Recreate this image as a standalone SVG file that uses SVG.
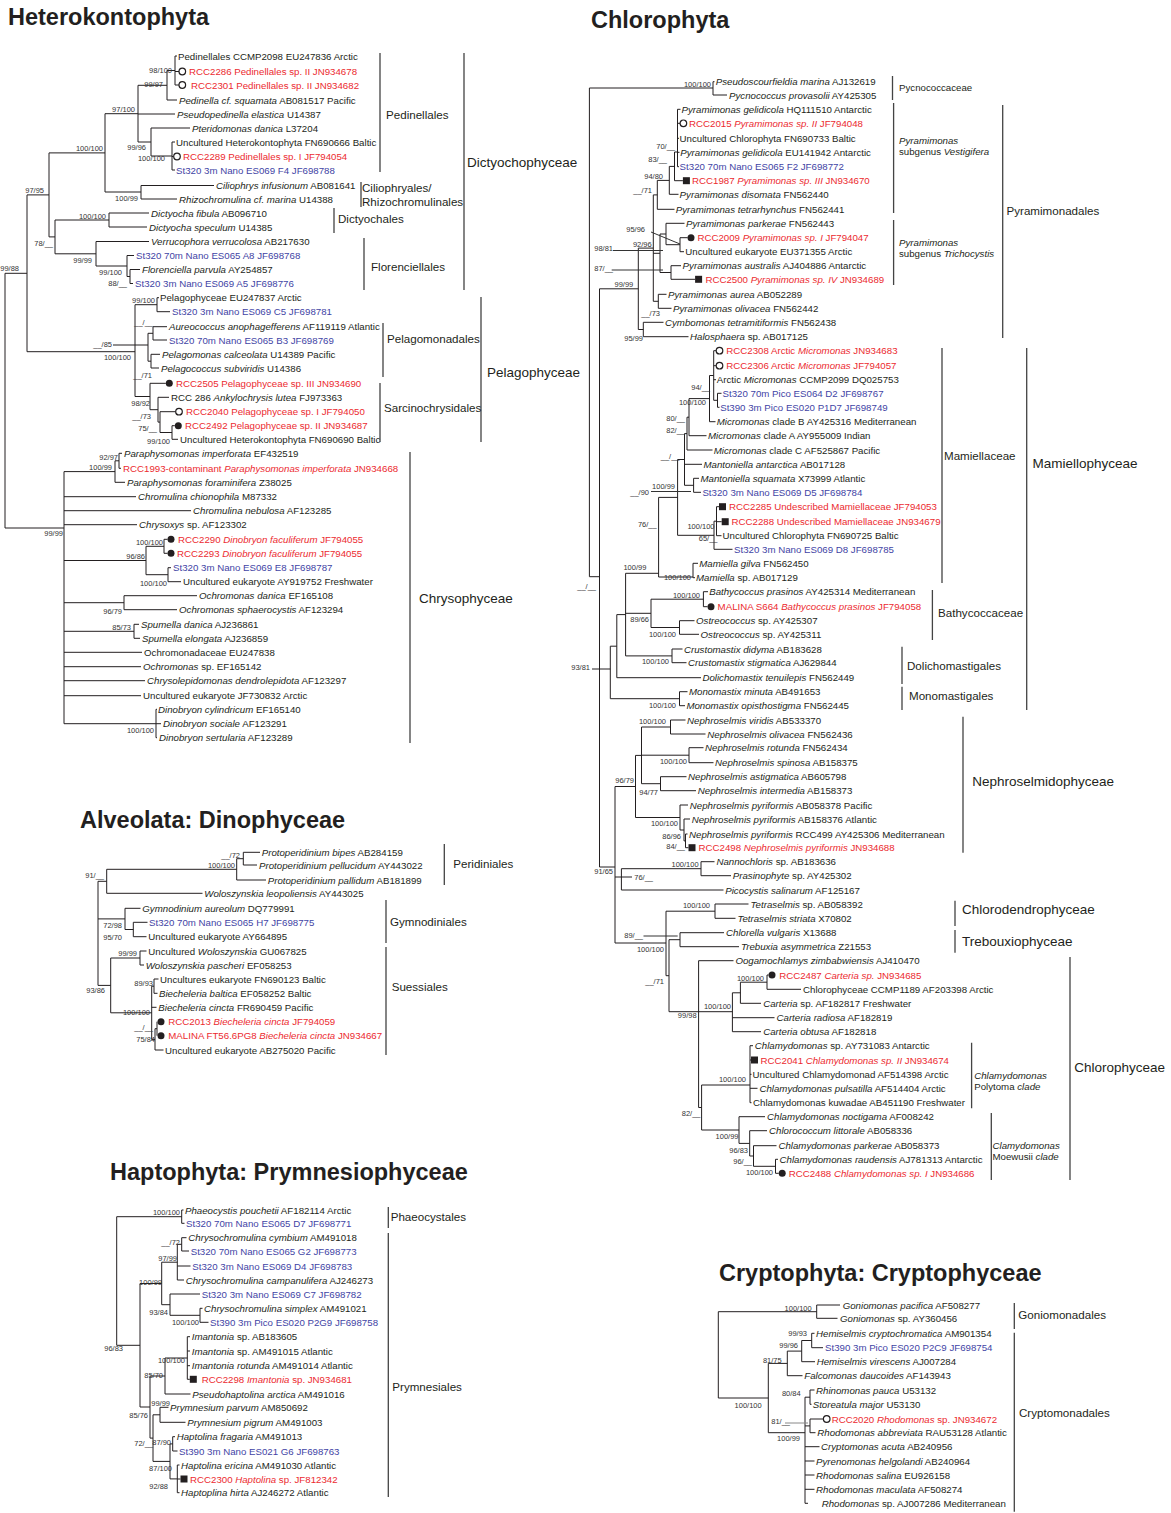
<svg xmlns="http://www.w3.org/2000/svg" width="1171" height="1513" viewBox="0 0 1171 1513">
<style>
text{font-family:"Liberation Sans",Arial,sans-serif;fill:#231f20}
.l{font-size:9.7px}
.r{fill:#ec2a2f}
.b{fill:#3f44a5}
.s{font-size:7.5px;fill:#333;text-anchor:end}
.o{font-size:11.6px}
.k{font-size:13.5px}
.h{font-size:23.5px;font-weight:bold}
.i{font-style:italic}
.br{fill:none;stroke:#231f20;stroke-width:1}
.bar{fill:none;stroke:#444;stroke-width:1.3}
.ptr{fill:none;stroke:#333;stroke-width:1}
.ptg{fill:none;stroke:#888;stroke-width:1}
</style>
<defs>
<circle id="oc" r="3.3" fill="#fff" stroke="#231f20" stroke-width="1.2"/>
<circle id="fc" r="3.5" fill="#231f20"/>
<rect id="sq" x="-3.5" y="-3.5" width="7" height="7" fill="#231f20"/>
</defs>
<rect width="1171" height="1513" fill="#fff"/>

<g id="connectors">
<path class="br" d="M175,56V85M175,56H177M175,71.5H179M175,85H179M167,70.5H175M167,70.5V100M167,100H177M138,85.3H167M138,85.3V142M138,114H175M138,142H151M151,128V156M151,128H190M151,156H172M172,142V170M172,142H175M172,156.5H173.5M172,170H175M105,113.7H138M105,113.7V192M105,192H141M141,185.5V199M141,185.5H214M141,199H177M49,152.9H105M49,152.9V236.9M49,236.9H55M55,220V253.8M55,220H109M109,213V227M109,213H149M109,227H147M55,253.8H96M96,241.5V266M96,241.5H149M96,266H127M127,255.5V276.5M127,255.5H134M127,276.5H130M130,269.5V283.5M130,269.5H140M130,283.5H133M27,194.9H49M27,194.9V351.7M5,273.3H27M5,273.3V528M27,351.7H135M135,304.7V396.5M135,304.7H157M157,297.7V311.7M157,297.7H159M157,311.7H170M153,326.7V340M153,326.7H167M153,340H167M151,354.3V368M151,354.3H160M151,368H159M148,333.3V361.2M148,333.3H153M148,361.2H151M113,345H148M135,396.5H150M150,383.3V409.7M150,383.3H165.8M150,409.7H158M158,397.3V422.1M158,397.3H169M158,422.1H160M160,411.7V432.5M160,411.7H175.7M160,432.5H172M172,425.7V439.3M172,425.7H174.8M172,439.3H178"/>
<path class="br" d="M5,528H64M64,471.6V723.7M64,471.6H115M115,460.8V482.3M115,460.8H119M115,482.3H125M119,453.3V468.3M119,453.3H122M119,468.3H121M64,496.7H136M64,510.7H191M64,524.7H137M64,560.5H146M146,546.3V574.7M146,546.3H164M146,574.7H168M164,539.3V553.3M164,539.3H167.5M164,553.3H167.5M168,567.7V581.7M168,567.7H171M168,581.7H181M64,602.7H124M124,595.7V609.7M124,595.7H197M124,609.7H177M64,631.3H134M134,624.3V638.3M134,624.3H139M134,638.3H140M64,652.3H142M64,666.7H141M64,680.7H145M64,695.7H141M64,723.7H156M156,709.3V737.7M156,709.3H157M156,723.7H161M156,737.7H157"/>
<path class="br" d="M243.3,852.3V865M243.3,852.3H260M243.3,865H257M236.7,858.7V880M236.7,858.7H243.3M236.7,880H266M106.7,869.3V893.3M106.7,869.3H236.7M106.7,893.3H202.5M133.3,922.3V936.7M133.3,922.3H147.5M133.3,936.7H146.5M125,908.3V929.5M125,908.3H140.5M125,929.5H133.3M140,951V965M140,951H146.5M140,965H144M154,979V993.3M154,979H158.5M154,993.3H157.5M157,1021.7V1035.7M155,1028.7V1050M155,1028.7H157M155,1050H163.5M151.7,986.2V1039.4M151.7,986.2H154M151.7,1007.3H156.5M151.7,1039.4H155M110.7,958V1012.8M110.7,958H140M110.7,1012.8H151.7M98,881.3V985.4M98,881.3H106.7M98,918.9H125M98,985.4H110.7"/>
<path class="br" d="M181.7,1210V1223.3M181.7,1210H183.5M181.7,1223.3H184.5M181.7,1237.7V1251M181.7,1237.7H186.5M181.7,1251H189M177.3,1244.3V1280M177.3,1244.3H181.7M177.3,1266H190.5M177.3,1280H184M200,1308.3V1322.3M200,1308.3H202.5M200,1322.3H208.5M170,1294V1315.3M170,1294H200M170,1315.3H200M161.7,1262.2V1304.7M161.7,1262.2H177.3M161.7,1304.7H170M187.3,1336.7V1379.3M187.3,1336.7H190M187.3,1351H190M187.3,1365.7H190M187.3,1379.3H189.8M165,1358V1394M165,1358H187.3M165,1394H190.5M160,1407.3V1422.3M160,1407.3H168.5M160,1422.3H185.5M172.7,1436.7V1451M172.7,1436.7H175M172.7,1451H177.5M177.3,1465V1492.7M177.3,1465H179.5M177.3,1479H180.5M177.3,1492.7H179.5M170,1443.9V1478.9M170,1443.9H172.7M170,1478.9H177.3M153,1414.8V1461.4M153,1414.8H160M153,1461.4H170M150,1376V1438.1M150,1376H165M150,1438.1H153M140,1283.5V1407M140,1283.5H161.7M140,1407H150M116.7,1216.7V1345.3M116.7,1216.7H181.7M116.7,1345.3H140"/>
<path class="br" d="M589.4,88V576.7M589.4,88H713M713,81.7V95M713,81.7H714.5M713,95H727M589.4,576.7H599.5M599.5,288.8V867M677.5,109.3V166.7M677.5,109.3H680.5M677.5,123.3H680.2M677.5,138.3H679M677.5,152.3H679.5M677.5,166.7H679M674.5,152V180.7M674.5,152H677.5M674.5,180.7H682.9M669.3,166.4V194.3M669.3,166.4H674.5M669.3,194.3H678.5M657.3,180.4V209.3M657.3,180.4H669.3M657.3,209.3H674.5M680,237.7V251.7M680,237.7H687.7M680,251.7H684M666,223.3V244.7M666,223.3H684.5M666,244.7H680M671,265.7V279.3M671,265.7H681M671,279.3H695M660,234V272.5M660,234H666M660,272.5H671M658.3,294.3V308.3M658.3,294.3H666.5M658.3,308.3H671.5M653.3,194.9V301.3M653.3,194.9H657.3M653.3,253.3H660M653.3,301.3H658.3M643.3,322.3V336.7M643.3,322.3H663.5M643.3,336.7H688.5M638.3,248.1V329.5M638.3,248.1H653.3M638.3,329.5H643.3M599.5,288.8H638.3"/>
<path class="br" d="M713.7,350.7V400.3M713.7,350.7H716.2M713.7,365.7H716.2M713.7,379.7H716M717.5,393.3V407.3M717.5,393.3H721.5M717.5,407.3H719.5M713.7,400.3H717.5M709.5,375.5V421.7M709.5,375.5H713.7M709.5,421.7H715.5M689,398.6V435.7M689,398.6H709.5M689,435.7H706.5M687,417.2V450M687,417.2H689M687,450H712.5M693.6,478.3V492.3M693.6,478.3H699M693.6,492.3H701M684.5,433.6V485.3M684.5,433.6H687M684.5,464.3H702M684.5,485.3H693.6M716.5,506.7V535.7M716.5,506.7H719M716.5,521.7H721.7M716.5,535.7H721.5M714,521.2V549.3M714,521.2H716.5M714,549.3H732.5M677.6,459.5V535.3M677.6,459.5H684.5M677.6,535.3H714M658.6,497.4V577M658.6,497.4H677.6M658.6,577H693M693,563.3V577.7M693,563.3H698M693,577.7H695M625.6,573.3H658.6M703.4,591.7V606.7M703.4,591.7H708M703.4,606.7H707.5M679.5,620.7V634.3M679.5,620.7H694.5M679.5,634.3H699M651,599.2V627.5M651,599.2H703.4M651,627.5H679.5M672,649V662.7M672,649H682.5M672,662.7H686.5M625.6,573.3V655.9M625.6,613.3H651M625.6,655.9H672M616.8,614.6V677.7M616.8,614.6H625.6M616.8,677.7H701M679.5,691.7V705.7M679.5,691.7H687.5M679.5,705.7H685M610.3,646.2V698.7M610.3,646.2H616.8M610.3,698.7H679.5M592,669H610.3"/>
<path class="br" d="M670.5,720V734M670.5,720H685.5M670.5,734H705.5M689,747.7V762.7M689,747.7H703.5M689,762.7H713.5M660.5,776.7V790.7M660.5,776.7H686.5M660.5,790.7H696M641.5,727V783.7M641.5,727H670.5M641.5,755.2H689M641.5,783.7H660.5M685.5,834V847.7M685.5,834H687.5M685.5,847.7H688.5M684,819V840.9M684,819H690M684,840.9H685.5M680,805V830M680,805H688M680,830H684M635.5,755.4V817.5M635.5,755.4H641.5M635.5,817.5H680M615,786.5V943M615,786.5H635.5M701,861.7V875.7M701,861.7H714.5M701,875.7H731M621.4,868.7V890M621.4,868.7H701M621.4,890H723.5M615,877H632M599.5,867H615M715,904V918.3M715,904H748.5M715,918.3H735.5M680,932.7V946.7M680,932.7H724M680,946.7H739M666,911.2V975.7M666,911.2H715M666,975.7H669M669,939.7V1011.7M669,939.7H680M669,1011.7H732.4M615,943H666M698.6,960.7V1107.5M698.6,960.7H733.5M767,975V989.3M767,975H768.5M767,989.3H801M740.4,982.2V1003.3M740.4,982.2H767M740.4,1003.3H761M732.4,992.8V1031.7M732.4,992.8H740.4M732.4,1017.7H774.5M732.4,1031.7H761M750,1045.7V1102.7M750,1045.7H753M750,1060H751M750,1074.3H751.5M750,1088.3H757.5M750,1102.7H751.5M775.5,1159.3V1173.3M775.5,1159.3H778M775.5,1173.3H778.7M753.5,1145.7V1166.3M753.5,1145.7H776.5M753.5,1166.3H775.5M749.7,1130.7V1156M749.7,1130.7H767M749.7,1156H753.5M739,1116.7V1143.4M739,1116.7H765M739,1143.4H749.7M701.6,1085V1130M701.6,1085H750M701.6,1130H739M698.6,1107.5H701.6"/>
<path class="br" d="M816.7,1305V1318.3M816.7,1305H840M816.7,1318.3H837.5M811.7,1333.3V1347.7M811.7,1333.3H814.5M811.7,1347.7H823M801.7,1340.5V1361.7M801.7,1340.5H811.7M801.7,1361.7H815M787.3,1351.1V1375.7M787.3,1351.1H801.7M787.3,1375.7H802.5M810,1390V1404.3M810,1390H814.5M810,1404.3H811.5M810,1419V1432.7M810,1419H823.4M810,1432.7H815.5M805,1397.2V1503.3M805,1397.2H810M805,1425.9H810M805,1446.7H819.5M805,1461H814.5M805,1475H814.5M805,1489.3H814.5M805,1503.3H808M768.3,1432.7H805M768.3,1363.4V1432.7M768.3,1363.4H787.3M718.3,1311.7V1398M718.3,1311.7H816.7M718.3,1398H768.3"/>
<path class="ptr" d="M613,250.5H663M611.7,270H663M651,232L680,244M651,491.5H691M643.5,936H677.7"/>
<path class="ptg" d="M785,1423H808"/>
</g>

<g id="heterokontophyta">
<text class="h" x="8" y="25">Heterokontophyta</text>
<g id="hk-leaves">
<text class="l" x="178" y="59.5">Pedinellales CCMP2098 EU247836 Arctic</text>
<use href="#oc" x="182.3" y="71.5"/><text class="l r" x="189" y="75">RCC2286 Pedinellales sp. II JN934678</text>
<use href="#oc" x="182.3" y="85"/><text class="l r" x="191" y="88.5">RCC2301 Pedinellales sp. II JN934682</text>
<text class="l" x="179" y="103.5"><tspan class="i">Pedinella cf. squamata</tspan> AB081517 Pacific</text>
<text class="l" x="177" y="117.5"><tspan class="i">Pseudopedinella elastica</tspan> U14387</text>
<text class="l" x="192" y="131.5"><tspan class="i">Pteridomonas danica</tspan> L37204</text>
<text class="l" x="176" y="145.5">Uncultured Heterokontophyta FN690666 Baltic</text>
<use href="#oc" x="177" y="156.5"/><text class="l r" x="183" y="160">RCC2289 Pedinellales sp. I JF794054</text>
<text class="l b" x="176" y="173.5">St320 3m Nano ES069 F4 JF698788</text>
<text class="l" x="216" y="189"><tspan class="i">Ciliophrys infusionum</tspan> AB081641</text>
<text class="l" x="179" y="202.5"><tspan class="i">Rhizochromulina cf. marina</tspan> U14388</text>
<text class="l" x="151" y="216.5"><tspan class="i">Dictyocha fibula</tspan> AB096710</text>
<text class="l" x="149" y="230.5"><tspan class="i">Dictyocha speculum</tspan> U14385</text>
<text class="l" x="151" y="245"><tspan class="i">Verrucophora verrucolosa</tspan> AB217630</text>
<text class="l b" x="136" y="259">St320 70m Nano ES065 A8 JF698768</text>
<text class="l" x="142" y="273"><tspan class="i">Florenciella parvula</tspan> AY254857</text>
<text class="l b" x="135" y="287">St320 3m Nano ES069 A5 JF698776</text>
<text class="l" x="160" y="301.2">Pelagophyceae EU247837 Arctic</text>
<text class="l b" x="172" y="315.2">St320 3m Nano ES069 C5 JF698781</text>
<text class="l" x="169" y="330"><tspan class="i">Aureococcus anophagefferens</tspan> AF119119 Atlantic</text>
<text class="l b" x="169" y="343.5">St320 70m Nano ES065 B3 JF698769</text>
<text class="l" x="162" y="357.8"><tspan class="i">Pelagomonas calceolata</tspan> U14389 Pacific</text>
<text class="l" x="161" y="371.5"><tspan class="i">Pelagococcus subviridis</tspan> U14386</text>
<use href="#fc" x="169.3" y="383.3"/><text class="l r" x="176" y="386.8">RCC2505 Pelagophyceae sp. III JN934690</text>
<text class="l" x="171" y="400.8">RCC 286 <tspan class="i">Ankylochrysis lutea</tspan> FJ973363</text>
<use href="#oc" x="179" y="411.7"/><text class="l r" x="186" y="415.2">RCC2040 Pelagophyceae sp. I JF794050</text>
<use href="#fc" x="178.3" y="425.7"/><text class="l r" x="185" y="429.2">RCC2492 Pelagophyceae sp. II JN934687</text>
<text class="l" x="180" y="442.8">Uncultured Heterokontophyta FN690690 Baltic</text>
<text class="l" x="124" y="456.8"><tspan class="i">Paraphysomonas imperforata</tspan> EF432519</text>
<text class="l r" x="123" y="471.8">RCC1993-contaminant <tspan class="i">Paraphysomonas imperforata</tspan> JN934668</text>
<text class="l" x="127" y="485.8"><tspan class="i">Paraphysomonas foraminifera</tspan> Z38025</text>
<text class="l" x="138" y="500.2"><tspan class="i">Chromulina chionophila</tspan> M87332</text>
<text class="l" x="193" y="514.2"><tspan class="i">Chromulina nebulosa</tspan> AF123285</text>
<text class="l" x="139" y="528.2"><tspan class="i">Chrysoxys</tspan> sp. AF123302</text>
<use href="#fc" x="171" y="539.3"/><text class="l r" x="178" y="542.8">RCC2290 <tspan class="i">Dinobryon faculiferum</tspan> JF794055</text>
<use href="#fc" x="171" y="553.3"/><text class="l r" x="177" y="556.8">RCC2293 <tspan class="i">Dinobryon faculiferum</tspan> JF794055</text>
<text class="l b" x="173" y="571.2">St320 3m Nano ES069 E8 JF698787</text>
<text class="l" x="183" y="585.2">Uncultured eukaryote AY919752 Freshwater</text>
<text class="l" x="199" y="599.2"><tspan class="i">Ochromonas danica</tspan> EF165108</text>
<text class="l" x="179" y="613.2"><tspan class="i">Ochromonas sphaerocystis</tspan> AF123294</text>
<text class="l" x="141" y="627.8"><tspan class="i">Spumella danica</tspan> AJ236861</text>
<text class="l" x="142" y="641.8"><tspan class="i">Spumella elongata</tspan> AJ236859</text>
<text class="l" x="144" y="655.8">Ochromonadaceae EU247838</text>
<text class="l" x="143" y="670.2"><tspan class="i">Ochromonas</tspan> sp. EF165142</text>
<text class="l" x="147" y="684.2"><tspan class="i">Chrysolepidomonas dendrolepidota</tspan> AF123297</text>
<text class="l" x="143" y="699.2">Uncultured eukaryote JF730832 Arctic</text>
<text class="l" x="158" y="712.8"><tspan class="i">Dinobryon cylindricum</tspan> EF165140</text>
<text class="l" x="163" y="727.2"><tspan class="i">Dinobryon sociale</tspan> AF123291</text>
<text class="l" x="159" y="741.2"><tspan class="i">Dinobryon sertularia</tspan> AF123289</text>
</g>
<g id="hk-support">
<text class="s" x="172" y="72.7">98/100</text>
<text class="s" x="163" y="86.7">99/97</text>
<text class="s" x="135" y="111.7">97/100</text>
<text class="s" x="103" y="150.7">100/100</text>
<text class="s" x="146" y="149.7">99/96</text>
<text class="s" x="165" y="160.7">100/100</text>
<text class="s" x="44" y="192.7">97/95</text>
<text class="s" x="138" y="200.7">100/99</text>
<text class="s" x="106" y="218.7">100/100</text>
<text class="s" x="53" y="245.7">78/__</text>
<text class="s" x="92" y="262.7">99/99</text>
<text class="s" x="122" y="274.7">99/100</text>
<text class="s" x="127" y="285.7">88/__</text>
<text class="s" x="19" y="270.7">99/88</text>
<text class="s" x="155" y="302.7">99/100</text>
<text class="s" x="153" y="324.7">__/__</text>
<text class="s" x="112" y="346.7">__/85</text>
<text class="s" x="131" y="359.7">100/100</text>
<text class="s" x="152" y="377.7">__/71</text>
<text class="s" x="150" y="405.7">98/92</text>
<text class="s" x="151" y="418.7">__/73</text>
<text class="s" x="157" y="430.7">75/__</text>
<text class="s" x="170" y="443.7">99/100</text>
<text class="s" x="118" y="459.7">92/97</text>
<text class="s" x="112" y="469.7">100/99</text>
<text class="s" x="63" y="535.7">99/99</text>
<text class="s" x="163" y="544.7">100/100</text>
<text class="s" x="145" y="558.7">96/86</text>
<text class="s" x="167" y="585.7">100/100</text>
<text class="s" x="122" y="613.7">96/79</text>
<text class="s" x="131" y="629.7">85/73</text>
<text class="s" x="154" y="732.7">100/100</text>
</g>
<g id="hk-clades">
<path class="bar" d="M380,53V172M361,182V207M334,208V233M364,238V290M464,53V290M383,323V377M380,383V442M481,297V442M410,452V743"/>
<text class="o" x="386" y="119.2">Pedinellales</text>
<text class="o" x="362" y="192.2">Ciliophryales/</text>
<text class="o" x="362" y="206.2">Rhizochromulinales</text>
<text class="o" x="338" y="223.2">Dictyochales</text>
<text class="o" x="371" y="271.2">Florenciellales</text>
<text class="k" x="467" y="166.9">Dictyochophyceae</text>
<text class="o" x="387" y="343">Pelagomonadales</text>
<text class="o" x="384" y="412.2">Sarcinochrysidales</text>
<text class="k" x="487" y="376.9">Pelagophyceae</text>
<text class="k" x="419" y="602.9">Chrysophyceae</text>
</g>
</g>

<g id="dinophyceae">
<text class="h" x="80" y="828">Alveolata: Dinophyceae</text>
<g id="dn-leaves">
<text class="l" x="261.7" y="855.8"><tspan class="i">Protoperidinium bipes</tspan> AB284159</text>
<text class="l" x="259" y="868.5"><tspan class="i">Protoperidinium pellucidum</tspan> AY443022</text>
<text class="l" x="267.7" y="883.5"><tspan class="i">Protoperidinium pallidum</tspan> AB181899</text>
<text class="l" x="204.3" y="896.8"><tspan class="i">Woloszynskia leopoliensis</tspan> AY443025</text>
<text class="l" x="142.3" y="911.8"><tspan class="i">Gymnodinium aureolum</tspan> DQ779991</text>
<text class="l b" x="149" y="925.8">St320 70m Nano ES065 H7 JF698775</text>
<text class="l" x="148.3" y="940.2">Uncultured eukaryote AY664895</text>
<text class="l" x="148.3" y="954.5">Uncultured <tspan class="i">Woloszynskia</tspan> GU067825</text>
<text class="l" x="145.7" y="968.5"><tspan class="i">Woloszynskia pascheri</tspan> EF058253</text>
<text class="l" x="160" y="982.5">Uncultures eukaryote FN690123 Baltic</text>
<text class="l" x="159" y="996.8"><tspan class="i">Biecheleria baltica</tspan> EF058252 Baltic</text>
<text class="l" x="158.3" y="1010.8"><tspan class="i">Biecheleria cincta</tspan> FR690459 Pacific</text>
<use href="#fc" x="161" y="1021.7"/><text class="l r" x="168.3" y="1025.2">RCC2013 <tspan class="i">Biecheleria cincta</tspan> JF794059</text>
<use href="#fc" x="161" y="1035.7"/><text class="l r" x="168.3" y="1039.2">MALINA FT56.6PG8 <tspan class="i">Biecheleria cincta</tspan> JN934667</text>
<text class="l" x="165" y="1053.5">Uncultured eukaryote AB275020 Pacific</text>
</g>
<g id="dn-support">
<text class="s" x="240" y="857.7">__/72</text>
<text class="s" x="235" y="867.7">100/100</text>
<text class="s" x="104" y="877.7">91/__</text>
<text class="s" x="122" y="927.7">72/98</text>
<text class="s" x="122" y="939.7">95/70</text>
<text class="s" x="137" y="955.7">99/99</text>
<text class="s" x="153" y="985.7">89/93</text>
<text class="s" x="105" y="992.7">93/86</text>
<text class="s" x="150" y="1014.7">100/100</text>
<text class="s" x="153" y="1029.7">__/__</text>
<text class="s" x="155" y="1041.7">75/84</text>
</g>
<g id="dn-clades">
<path class="bar" d="M444.3,844V885M386,900V943M386,947V1055"/>
<text class="o" x="453.3" y="868.2">Peridiniales</text>
<text class="o" x="390" y="926.2">Gymnodiniales</text>
<text class="o" x="391.7" y="990.9">Suessiales</text>
</g>
</g>

<g id="haptophyta">
<text class="h" x="110" y="1180">Haptophyta: Prymnesiophyceae</text>
<g id="hp-leaves">
<text class="l" x="185" y="1213.5"><tspan class="i">Phaeocystis pouchetii</tspan> AF182114 Arctic</text>
<text class="l b" x="186" y="1226.8">St320 70m Nano ES065 D7 JF698771</text>
<text class="l" x="188.3" y="1241.2"><tspan class="i">Chrysochromulina cymbium</tspan> AM491018</text>
<text class="l b" x="190.7" y="1254.5">St320 70m Nano ES065 G2 JF698773</text>
<text class="l b" x="192.3" y="1269.5">St320 3m Nano ES069 D4 JF698783</text>
<text class="l" x="185.7" y="1283.5"><tspan class="i">Chrysochromulina campanulifera</tspan> AJ246273</text>
<text class="l b" x="201.7" y="1297.5">St320 3m Nano ES069 C7 JF698782</text>
<text class="l" x="204" y="1311.8"><tspan class="i">Chrysochromulina simplex</tspan> AM491021</text>
<text class="l b" x="210" y="1325.8">St390 3m Pico ES020 P2G9 JF698758</text>
<text class="l" x="191.7" y="1340.2"><tspan class="i">Imantonia</tspan> sp. AB183605</text>
<text class="l" x="191.7" y="1354.5"><tspan class="i">Imantonia</tspan> sp. AM491015 Atlantic</text>
<text class="l" x="191.7" y="1369.2"><tspan class="i">Imantonia rotunda</tspan> AM491014 Atlantic</text>
<use href="#sq" x="193.3" y="1379.3"/><text class="l r" x="201.7" y="1382.8">RCC2298 <tspan class="i">Imantonia</tspan> sp. JN934681</text>
<text class="l" x="192.3" y="1397.5"><tspan class="i">Pseudohaptolina arctica</tspan> AM491016</text>
<text class="l" x="170" y="1410.8"><tspan class="i">Prymnesium parvum</tspan> AM850692</text>
<text class="l" x="187.3" y="1425.8"><tspan class="i">Prymnesium pigrum</tspan> AM491003</text>
<text class="l" x="176.7" y="1440.2"><tspan class="i">Haptolina fragaria</tspan> AM491013</text>
<text class="l b" x="179" y="1454.5">St390 3m Nano ES021 G6 JF698763</text>
<text class="l" x="181" y="1468.5"><tspan class="i">Haptolina ericina</tspan> AM491030 Atlantic</text>
<use href="#sq" x="184" y="1479"/><text class="l r" x="190" y="1482.5">RCC2300 <tspan class="i">Haptolina</tspan> sp. JF812342</text>
<text class="l" x="181" y="1496.2"><tspan class="i">Haptoplina hirta</tspan> AJ246272 Atlantic</text>
</g>
<g id="hp-support">
<text class="s" x="180" y="1214.7">100/100</text>
<text class="s" x="180" y="1244.7">__/72</text>
<text class="s" x="177" y="1260.7">97/99</text>
<text class="s" x="162" y="1284.7">100/99</text>
<text class="s" x="168" y="1314.7">93/84</text>
<text class="s" x="199" y="1324.7">100/100</text>
<text class="s" x="123" y="1350.7">96/83</text>
<text class="s" x="185" y="1362.7">100/100</text>
<text class="s" x="163" y="1377.7">85/70</text>
<text class="s" x="170" y="1405.7">99/99</text>
<text class="s" x="148" y="1417.7">85/76</text>
<text class="s" x="153" y="1445.7">72/__</text>
<text class="s" x="171" y="1444.7">87/90</text>
<text class="s" x="172" y="1470.7">87/100</text>
<text class="s" x="168" y="1488.7">92/88</text>
</g>
<g id="hp-clades">
<path class="bar" d="M388.3,1207V1228M388.3,1233V1497"/>
<text class="o" x="390.7" y="1220.9">Phaeocystales</text>
<text class="o" x="392.3" y="1391.2">Prymnesiales</text>
</g>
</g>

<g id="chlorophyta">
<text class="h" x="591" y="28">Chlorophyta</text>
<g id="ch-leaves">
<text class="l" x="715.7" y="85.2"><tspan class="i">Pseudoscourfieldia marina</tspan> AJ132619</text>
<text class="l" x="729" y="98.5"><tspan class="i">Pycnococcus provasolii</tspan> AY425305</text>
<text class="l" x="681.5" y="112.8"><tspan class="i">Pyramimonas gelidicola</tspan> HQ111510 Antarctic</text>
<use href="#oc" x="683.4" y="123.3"/><text class="l r" x="689" y="126.8">RCC2015 <tspan class="i">Pyramimonas sp. II</tspan> JF794048</text>
<text class="l" x="679.6" y="141.8">Uncultured Chlorophyta FN690733 Baltic</text>
<text class="l" x="680.3" y="155.8"><tspan class="i">Pyramimonas gelidicola</tspan> EU141942 Antarctic</text>
<text class="l b" x="679.6" y="170.2">St320 70m Nano ES065 F2 JF698772</text>
<use href="#sq" x="686.4" y="180.7"/><text class="l r" x="692" y="184.2">RCC1987 <tspan class="i">Pyramimonas sp. III</tspan> JN934670</text>
<text class="l" x="679.6" y="197.8"><tspan class="i">Pyramimonas disomata</tspan> FN562440</text>
<text class="l" x="675.8" y="212.8"><tspan class="i">Pyramimonas tetrarhynchus</tspan> FN562441</text>
<text class="l" x="686" y="226.8"><tspan class="i">Pyramimonas parkerae</tspan> FN562443</text>
<use href="#fc" x="691" y="237.7"/><text class="l r" x="697.4" y="241.2">RCC2009 <tspan class="i">Pyramimonas sp. I</tspan> JF794047</text>
<text class="l" x="685.3" y="255.2">Uncultured eukaryote EU371355 Arctic</text>
<text class="l" x="682.6" y="269.2"><tspan class="i">Pyramimonas australis</tspan> AJ404886 Antarctic</text>
<use href="#sq" x="698.6" y="279.3"/><text class="l r" x="705.4" y="282.8">RCC2500 <tspan class="i">Pyramimonas sp. IV</tspan> JN934689</text>
<text class="l" x="668" y="297.8"><tspan class="i">Pyramimonas aurea</tspan> AB052289</text>
<text class="l" x="673" y="311.8"><tspan class="i">Pyramimonas olivacea</tspan> FN562442</text>
<text class="l" x="665" y="325.8"><tspan class="i">Cymbomonas tetramitiformis</tspan> FN562438</text>
<text class="l" x="690" y="340.2"><tspan class="i">Halosphaera</tspan> sp. AB017125</text>
<use href="#oc" x="719.5" y="350.7"/><text class="l r" x="726.3" y="354.2">RCC2308 Arctic <tspan class="i">Micromonas</tspan> JN934683</text>
<use href="#oc" x="719.5" y="365.7"/><text class="l r" x="726.3" y="369.2">RCC2306 Arctic <tspan class="i">Micromonas</tspan> JF794057</text>
<text class="l" x="716.8" y="383.2">Arctic <tspan class="i">Micromonas</tspan> CCMP2099 DQ025753</text>
<text class="l b" x="722.5" y="396.8">St320 70m Pico ES064 D2 JF698767</text>
<text class="l b" x="720.2" y="410.8">St390 3m Pico ES020 P1D7 JF698749</text>
<text class="l" x="716.8" y="425.2"><tspan class="i">Micromonas</tspan> clade B AY425316 Mediterranean</text>
<text class="l" x="708" y="439.2"><tspan class="i">Micromonas</tspan> clade A AY955009 Indian</text>
<text class="l" x="713.8" y="453.5"><tspan class="i">Micromonas</tspan> clade C AF525867 Pacific</text>
<text class="l" x="703.5" y="467.8"><tspan class="i">Mantoniella antarctica</tspan> AB017128</text>
<text class="l" x="700.5" y="481.8"><tspan class="i">Mantoniella squamata</tspan> X73999 Atlantic</text>
<text class="l b" x="702.4" y="495.8">St320 3m Nano ES069 D5 JF698784</text>
<use href="#sq" x="722.5" y="506.7"/><text class="l r" x="729" y="510.2">RCC2285 Undescribed Mamiellaceae JF794053</text>
<use href="#sq" x="725.2" y="521.7"/><text class="l r" x="731.6" y="525.2">RCC2288 Undescribed Mamiellaceae JN934679</text>
<text class="l" x="722.5" y="539.2">Uncultured Chlorophyta FN690725 Baltic</text>
<text class="l b" x="734" y="552.8">St320 3m Nano ES069 D8 JF698785</text>
<text class="l" x="699.3" y="566.8"><tspan class="i">Mamiella gilva</tspan> FN562450</text>
<text class="l" x="696" y="581.2"><tspan class="i">Mamiella</tspan> sp. AB017129</text>
<text class="l" x="709.2" y="595.2"><tspan class="i">Bathycoccus prasinos</tspan> AY425314 Mediterranean</text>
<use href="#fc" x="711" y="606.7"/><text class="l r" x="717.6" y="610.2">MALINA S664 <tspan class="i">Bathycoccus prasinos</tspan> JF794058</text>
<text class="l" x="696" y="624.2"><tspan class="i">Ostreococcus</tspan> sp. AY425307</text>
<text class="l" x="700.5" y="637.8"><tspan class="i">Ostreococcus</tspan> sp. AY425311</text>
<text class="l" x="684" y="652.5"><tspan class="i">Crustomastix didyma</tspan> AB183628</text>
<text class="l" x="688" y="666.2"><tspan class="i">Crustomastix stigmatica</tspan> AJ629844</text>
<text class="l" x="702.4" y="681.2"><tspan class="i">Dolichomastix tenuilepis</tspan> FN562449</text>
<text class="l" x="689" y="695.2"><tspan class="i">Monomastix minuta</tspan> AB491653</text>
<text class="l" x="686.4" y="709.2"><tspan class="i">Monomastix opisthostigma</tspan> FN562445</text>
<text class="l" x="687" y="723.5"><tspan class="i">Nephroselmis viridis</tspan> AB533370</text>
<text class="l" x="707.3" y="737.5"><tspan class="i">Nephroselmis olivacea</tspan> FN562436</text>
<text class="l" x="705" y="751.2"><tspan class="i">Nephroselmis rotunda</tspan> FN562434</text>
<text class="l" x="715" y="766.2"><tspan class="i">Nephroselmis spinosa</tspan> AB158375</text>
<text class="l" x="688" y="780.2"><tspan class="i">Nephroselmis astigmatica</tspan> AB605798</text>
<text class="l" x="697.8" y="794.2"><tspan class="i">Nephroselmis intermedia</tspan> AB158373</text>
<text class="l" x="689.8" y="808.5"><tspan class="i">Nephroselmis pyriformis</tspan> AB058378 Pacific</text>
<text class="l" x="691.7" y="822.5"><tspan class="i">Nephroselmis pyriformis</tspan> AB158376 Atlantic</text>
<text class="l" x="689" y="837.5"><tspan class="i">Nephroselmis pyriformis</tspan> RCC499 AY425306 Mediterranean</text>
<use href="#sq" x="692" y="847.7"/><text class="l r" x="698.6" y="851.2">RCC2498 <tspan class="i">Nephroselmis pyriformis</tspan> JN934688</text>
<text class="l" x="716.4" y="865.2"><tspan class="i">Nannochloris</tspan> sp. AB183636</text>
<text class="l" x="732.8" y="879.2"><tspan class="i">Prasinophyte</tspan> sp. AY425302</text>
<text class="l" x="725.2" y="893.5"><tspan class="i">Picocystis salinarum</tspan> AF125167</text>
<text class="l" x="750.6" y="907.5"><tspan class="i">Tetraselmis</tspan> sp. AB058392</text>
<text class="l" x="737.4" y="921.8"><tspan class="i">Tetraselmis striata</tspan> X70802</text>
<text class="l" x="726" y="936.2"><tspan class="i">Chlorella vulgaris</tspan> X13688</text>
<text class="l" x="741" y="950.2"><tspan class="i">Trebuxia asymmetrica</tspan> Z21553</text>
<text class="l" x="735.4" y="964.2"><tspan class="i">Oogamochlamys zimbabwiensis</tspan> AJ410470</text>
<use href="#fc" x="772" y="975"/><text class="l r" x="779.2" y="978.5">RCC2487 <tspan class="i">Carteria sp.</tspan> JN934685</text>
<text class="l" x="803" y="992.8">Chlorophyceae CCMP1189 AF203398 Arctic</text>
<text class="l" x="763.2" y="1006.8"><tspan class="i">Carteria</tspan> sp. AF182817 Freshwater</text>
<text class="l" x="776.5" y="1021.2"><tspan class="i">Carteria radiosa</tspan> AF182819</text>
<text class="l" x="763.2" y="1035.2"><tspan class="i">Carteria obtusa</tspan> AF182818</text>
<text class="l" x="754.8" y="1049.2"><tspan class="i">Chlamydomonas</tspan> sp. AY731083 Antarctic</text>
<use href="#sq" x="754.5" y="1060"/><text class="l r" x="760.5" y="1063.5">RCC2041 <tspan class="i">Chlamydomonas sp. II</tspan> JN934674</text>
<text class="l" x="752.6" y="1077.8">Uncultured Chlamydomonad AF514398 Arctic</text>
<text class="l" x="759.4" y="1091.8"><tspan class="i">Chlamydomonas pulsatilla</tspan> AF514404 Arctic</text>
<text class="l" x="753" y="1106.2">Chlamydomonas kuwadae AB451190 Freshwater</text>
<text class="l" x="767" y="1120.2"><tspan class="i">Chlamydomonas noctigama</tspan> AF008242</text>
<text class="l" x="769" y="1134.2"><tspan class="i">Chlorococcum littorale</tspan> AB058336</text>
<text class="l" x="778.4" y="1149.2"><tspan class="i">Chlamydomonas parkerae</tspan> AB058373</text>
<text class="l" x="779.5" y="1162.8"><tspan class="i">Chlamydomonas raudensis</tspan> AJ781313 Antarctic</text>
<use href="#fc" x="782.2" y="1173.3"/><text class="l r" x="788.7" y="1176.8">RCC2488 <tspan class="i">Chlamydomonas sp. I</tspan> JN934686</text>
</g>
<g id="ch-support">
<text class="s" x="711" y="86.7">100/100</text>
<text class="s" x="675" y="148.7">70/__</text>
<text class="s" x="667" y="161.7">83/__</text>
<text class="s" x="663" y="179.4">94/80</text>
<text class="s" x="652" y="192.7">__/71</text>
<text class="s" x="645" y="232">95/96</text>
<text class="s" x="651.7" y="247">92/96</text>
<text class="s" x="613" y="251">98/81</text>
<text class="s" x="613" y="271">87/__</text>
<text class="s" x="633.3" y="286.7">99/99</text>
<text class="s" x="660" y="315.7">__/73</text>
<text class="s" x="643" y="340.7">95/99</text>
<text class="s" x="710" y="389.7">94/__</text>
<text class="s" x="706" y="405.4">100/100</text>
<text class="s" x="685" y="421">80/__</text>
<text class="s" x="685" y="432.7">82/__</text>
<text class="s" x="679.5" y="459.4">__/__</text>
<text class="s" x="675" y="488.7">100/99</text>
<text class="s" x="649" y="495.4">__/90</text>
<text class="s" x="656.7" y="526.7">76/__</text>
<text class="s" x="714.5" y="528.7">100/100</text>
<text class="s" x="717.5" y="541">65/__</text>
<text class="s" x="646.4" y="570.4">100/99</text>
<text class="s" x="691" y="580">100/100</text>
<text class="s" x="596" y="589.4">__/__</text>
<text class="s" x="700" y="597.7">100/100</text>
<text class="s" x="649" y="622">89/66</text>
<text class="s" x="676" y="636.7">100/100</text>
<text class="s" x="669" y="664.4">100/100</text>
<text class="s" x="590" y="670">93/81</text>
<text class="s" x="676" y="707.7">100/100</text>
<text class="s" x="666" y="724.4">100/100</text>
<text class="s" x="687" y="763.7">100/100</text>
<text class="s" x="634" y="782.7">96/79</text>
<text class="s" x="658" y="794.7">94/77</text>
<text class="s" x="678" y="826">100/100</text>
<text class="s" x="681" y="838.7">86/96</text>
<text class="s" x="685" y="849.4">84/__</text>
<text class="s" x="698.6" y="866.7">100/100</text>
<text class="s" x="613" y="873.7">91/65</text>
<text class="s" x="653" y="879.7">76/__</text>
<text class="s" x="710" y="907.7">100/100</text>
<text class="s" x="643" y="937.7">89/__</text>
<text class="s" x="664" y="951.7">100/100</text>
<text class="s" x="664" y="983.7">__/71</text>
<text class="s" x="764" y="981">100/100</text>
<text class="s" x="731" y="1008.7">100/100</text>
<text class="s" x="696.6" y="1018.4">99/98</text>
<text class="s" x="746" y="1081.7">100/100</text>
<text class="s" x="700.5" y="1115.7">82/__</text>
<text class="s" x="738.5" y="1138.7">100/99</text>
<text class="s" x="748" y="1152.7">96/83</text>
<text class="s" x="752" y="1164.4">96/__</text>
<text class="s" x="773" y="1175.4">100/100</text>
</g>
<g id="ch-clades">
<path class="bar" d="M892.5,76V100M893.6,103V213M893.6,220V285M1002.7,105V338M942,348V583M1026.7,348V710M932.4,590V640M902,646.7V684M902,686.7V710M963,716.7V852.7M955,900.7V926M955,930V952.7M1070,957V1180M971.6,1042.7V1108.3M991.3,1113V1180"/>
<text class="l" x="899" y="90.7">Pycnococcaceae</text>
<text class="l i" x="899" y="144.2">Pyramimonas</text>
<text class="l" x="899" y="155.2">subgenus <tspan class="i">Vestigifera</tspan></text>
<text class="l i" x="899" y="246.2">Pyramimonas</text>
<text class="l" x="899" y="256.8">subgenus <tspan class="i">Trichocystis</tspan></text>
<text class="o" x="1006.5" y="215.2">Pyramimonadales</text>
<text class="o" x="944" y="459.9">Mamiellaceae</text>
<text class="k" x="1032.4" y="468.2">Mamiellophyceae</text>
<text class="o" x="938" y="616.9">Bathycoccaceae</text>
<text class="o" x="907" y="670.2">Dolichomastigales</text>
<text class="o" x="909" y="700.2">Monomastigales</text>
<text class="k" x="972.3" y="785.9">Nephroselmidophyceae</text>
<text class="k" x="962" y="913.9">Chlorodendrophyceae</text>
<text class="k" x="962" y="945.9">Trebouxiophyceae</text>
<text class="k" x="1074.3" y="1071.6">Chlorophyceae</text>
<text class="l i" x="974.2" y="1078.5">Chlamydomonas</text>
<text class="l" x="974.2" y="1089.5">Polytoma <tspan class="i">clade</tspan></text>
<text class="l i" x="992.5" y="1149.2">Clamydomonas</text>
<text class="l" x="992.5" y="1160.2">Moewusii <tspan class="i">clade</tspan></text>
</g>
</g>

<g id="cryptophyta">
<text class="h" x="719" y="1281">Cryptophyta: Cryptophyceae</text>
<g id="cr-leaves">
<text class="l" x="842.7" y="1308.5"><tspan class="i">Goniomonas pacifica</tspan> AF508277</text>
<text class="l" x="840" y="1321.8"><tspan class="i">Goniomonas</tspan> sp. AY360456</text>
<text class="l" x="816" y="1336.8"><tspan class="i">Hemiselmis cryptochromatica</tspan> AM901354</text>
<text class="l b" x="825" y="1351.2">St390 3m Pico ES020 P2C9 JF698754</text>
<text class="l" x="816.7" y="1365.2"><tspan class="i">Hemiselmis virescens</tspan> AJ007284</text>
<text class="l" x="804.3" y="1379.2"><tspan class="i">Falcomonas daucoides</tspan> AF143943</text>
<text class="l" x="816" y="1393.5"><tspan class="i">Rhinomonas pauca</tspan> U53132</text>
<text class="l" x="812.7" y="1407.8"><tspan class="i">Storeatula major</tspan> U53130</text>
<use href="#oc" x="826.7" y="1419"/><text class="l r" x="831.7" y="1422.5">RCC2020 <tspan class="i">Rhodomonas</tspan> sp. JN934672</text>
<text class="l" x="817.3" y="1436.2"><tspan class="i">Rhodomonas abbreviata</tspan> RAU53128 Atlantic</text>
<text class="l" x="821" y="1450.2"><tspan class="i">Cryptomonas acuta</tspan> AB240956</text>
<text class="l" x="816" y="1464.5"><tspan class="i">Pyrenomonas helgolandi</tspan> AB240964</text>
<text class="l" x="816" y="1478.5"><tspan class="i">Rhodomonas salina</tspan> EU926158</text>
<text class="l" x="816" y="1492.8"><tspan class="i">Rhodomonas maculata</tspan> AF508274</text>
<text class="l" x="821.7" y="1506.8"><tspan class="i">Rhodomonas</tspan> sp. AJ007286 Mediterranean</text>
</g>
<g id="cr-support">
<text class="s" x="811.7" y="1311">100/100</text>
<text class="s" x="807" y="1335.7">99/93</text>
<text class="s" x="798" y="1347.7">99/96</text>
<text class="s" x="781.7" y="1362.7">81/75</text>
<text class="s" x="800.7" y="1396">80/84</text>
<text class="s" x="761.7" y="1407.7">100/100</text>
<text class="s" x="790" y="1424.4">81/__</text>
<text class="s" x="800" y="1441">100/99</text>
</g>
<g id="cr-clades">
<path class="bar" d="M1014.3,1303V1329M1014.3,1332.7V1511.7"/>
<text class="o" x="1018.3" y="1319.2">Goniomonadales</text>
<text class="o" x="1019" y="1416.5">Cryptomonadales</text>
</g>
</g>
</svg>
